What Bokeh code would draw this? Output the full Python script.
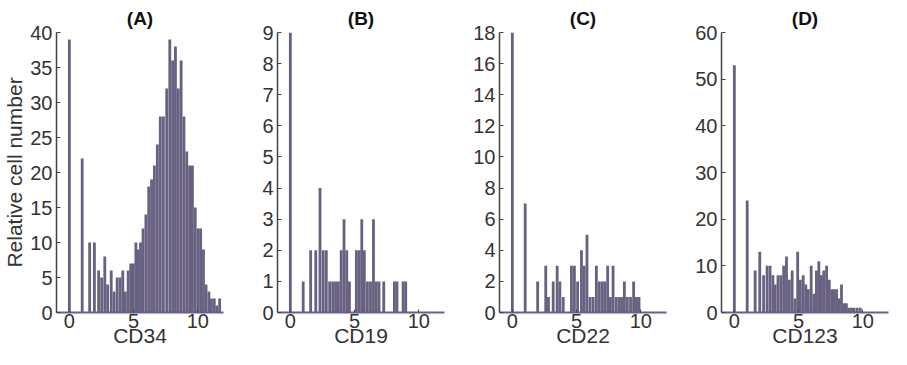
from bokeh.plotting import figure
from bokeh.layouts import row
from bokeh.models import Range1d, FixedTicker, ColumnDataSource
from bokeh.embed import file_html
from bokeh.resources import INLINE

# ---- data ----
titles = ["(A)", "(B)", "(C)", "(D)"]
markers = ["CD34", "CD19", "CD22", "CD123"]
y_max = [40, 9, 18, 60]
y_ticks = [
    [0, 5, 10, 15, 20, 25, 30, 35, 40],
    [0, 1, 2, 3, 4, 5, 6, 7, 8, 9],
    [0, 2, 4, 6, 8, 10, 12, 14, 16, 18],
    [0, 10, 20, 30, 40, 50, 60],
]
x_ticks = [0, 5, 10]
y_label = "Relative cell number"

cd34_bins = [0.00, 1.00, 1.58, 1.95, 2.28, 2.52, 2.76, 2.98, 3.26, 3.48, 3.72, 3.95,
             4.16, 4.36, 4.58, 4.78, 4.98, 5.18, 5.36, 5.54, 5.74, 5.96, 6.18, 6.40,
             6.62, 6.85, 7.08, 7.32, 7.58, 7.82, 8.04, 8.26, 8.48, 8.70, 8.92, 9.14,
             9.36, 9.58, 9.80, 10.02, 10.22, 10.44, 10.64, 10.86, 11.06, 11.28, 11.48,
             11.70]
cd34_counts = [39, 22, 10, 10, 6, 5, 8, 4, 6, 3, 5, 5,
               6, 3, 6, 7, 7, 10, 9, 10, 12, 14, 18, 19,
               21, 24, 28, 28, 32, 39, 36, 38, 32, 36, 28, 23,
               21, 21, 15, 12, 12, 9, 4, 3, 2, 2, 1,
               2]

cd19_bins = [0.00, 1.00, 1.58, 1.98, 2.31, 2.56, 2.80, 3.06, 3.30, 3.52, 3.74, 3.96,
             4.18, 4.39, 4.60, 5.14, 5.36, 5.56, 5.76, 6.00, 6.24, 6.47, 6.69, 6.90,
             7.27, 8.10, 8.30, 8.78, 8.98]
cd19_counts = [9, 1, 2, 2, 4, 2, 2, 1, 1, 1, 1, 2,
               3, 2, 1, 2, 2, 3, 2, 1, 1, 3, 1, 1,
               1, 1, 1, 1, 1]

cd22_bins = [0.00, 1.00, 1.97, 2.60, 2.81, 3.18, 3.49, 3.70, 3.96, 4.60, 4.83, 5.08,
             5.38, 5.59, 5.81, 6.05, 6.29, 6.54, 6.77, 7.00, 7.20, 7.42, 7.63, 7.84,
             8.08, 8.30, 8.50, 8.72, 8.95, 9.20, 9.44, 9.66, 9.86]
cd22_counts = [18, 7, 2, 3, 1, 2, 3, 2, 1, 3, 3, 2,
               4, 3, 5, 1, 1, 3, 2, 2, 2, 3, 1, 3,
               1, 1, 1, 2, 1, 1, 2, 1, 1]

cd123_bins = [0.00, 1.00, 1.62, 1.98, 2.28, 2.55, 2.78, 3.00, 3.18, 3.40, 3.62, 3.84,
              4.06, 4.28, 4.50, 4.72, 4.93, 5.14, 5.36, 5.56, 5.76, 5.98, 6.19, 6.39,
              6.58, 6.78, 6.96, 7.18, 7.39, 7.58, 7.78, 7.96, 8.14, 8.34, 8.52, 8.72,
              8.90, 9.12, 9.32, 9.56, 9.80]
cd123_counts = [53, 24, 9, 13, 8, 10, 10, 8, 6, 8, 8, 10,
                12, 7, 9, 3, 13, 7, 8, 6, 5, 10, 4, 9,
                11, 8, 9, 10, 7, 5, 5, 5, 3, 6, 2, 2,
                1, 1, 1, 1, 1]

all_bins = [cd34_bins, cd19_bins, cd22_bins, cd123_bins]
all_counts = [cd34_counts, cd19_counts, cd22_counts, cd123_counts]

# ---- style ----
BAR = "#686181"
AXIS = "#444444"
TXT = "#333333"
FONT = "Liberation Sans"

widths = [237, 222, 222, 210]
left_b = [56, 40, 40, 40]
right_b = [14, 15, 15, 3]

figs = []
for i in range(4):
    p = figure(width=widths[i], height=349,
               x_range=Range1d(-1, 12), y_range=Range1d(0, y_max[i]),
               output_backend="svg", toolbar_location=None,
               min_border_left=left_b[i], min_border_right=right_b[i],
               min_border_top=32, min_border_bottom=30,
               title=titles[i])
    src = ColumnDataSource(dict(x=all_bins[i], top=all_counts[i]))
    p.vbar(x="x", top="top", bottom=0, width=0.22, source=src,
           fill_color=BAR, line_color=None)
    p.grid.visible = False
    p.outline_line_color = None
    p.background_fill_color = "white"
    p.border_fill_color = "white"

    p.title.align = "center"
    p.title.vertical_align = "top"
    p.title.text_font = FONT
    p.title.text_font_size = "19px"
    p.title.text_font_style = "bold"
    p.title.text_color = "#111111"
    p.title.standoff = 4
    p.title.offset = 0

    p.xaxis.ticker = FixedTicker(ticks=x_ticks)
    p.yaxis.ticker = FixedTicker(ticks=y_ticks[i])
    p.xaxis.axis_label = markers[i]
    if i == 0:
        p.yaxis.axis_label = y_label
    for ax in (p.xaxis, p.yaxis):
        ax.major_label_text_font = FONT
        ax.major_label_text_font_size = "20px"
        ax.major_label_text_color = TXT
        ax.axis_label_text_font = FONT
        ax.axis_label_text_font_size = "21px"
        ax.axis_label_text_font_style = "normal"
        ax.axis_label_text_color = TXT
        ax.minor_tick_line_color = None
        ax.major_tick_out = 0
        ax.major_tick_in = 4
        ax.major_tick_line_color = AXIS
    p.yaxis.axis_line_color = AXIS
    p.yaxis.axis_line_width = 1.5
    p.yaxis.major_label_standoff = 4
    p.yaxis.axis_label_standoff = 1
    p.xaxis.axis_line_color = BAR
    p.xaxis.axis_line_width = 2
    p.xaxis.major_tick_in = 3
    p.xaxis.major_label_standoff = 1
    p.xaxis.axis_label_standoff = -7
    figs.append(p)

layout = row(*figs, spacing=0)
open("out.html", "w").write(file_html(layout, INLINE))
